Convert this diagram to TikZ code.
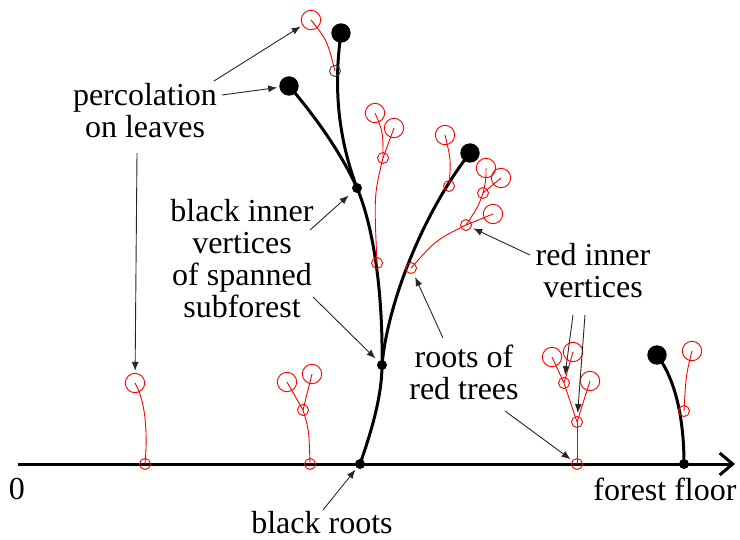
\documentclass[tikz,border=0pt]{standalone}
\usepackage{fontspec}
\setmainfont{Liberation Serif}
\usetikzlibrary{arrows.meta}
\pgfdeclarelayer{bg}
\pgfsetlayers{bg,main}
\begin{document}
\begin{tikzpicture}[x=1pt,y=-1pt,
  bigdot/.style={circle,fill=black,inner sep=0pt,minimum size=19.4pt},
  smalldot/.style={circle,fill=black,inner sep=0pt,minimum size=10pt},
  leaf/.style={circle,draw=red,line width=0.9pt,inner sep=0pt,minimum size=19.4pt},
  rv/.style={circle,draw=red,line width=0.9pt,inner sep=0pt,minimum size=11pt},
  dv/.style={circle,draw=black!75,line width=0.9pt,inner sep=0pt,minimum size=11pt},
  bline/.style={line width=3pt},
  rline/.style={red,line width=0.9pt},
  lbl/.style={align=center,inner sep=0pt,font=\fontsize{32}{32}\selectfont},
  arr/.style={line width=0.9pt,black!85,-{Latex[length=9pt,width=7pt]},shorten >=2pt},
]
\useasboundingbox (0,0) rectangle (740,540);

% black vertices
\node[smalldot] (br1) at (360,464) {};
\node[smalldot] (bi1) at (382,365) {};
\node[smalldot] (bi2) at (357,188) {};
\node[bigdot] (bl1) at (289,86) {};
\node[bigdot] (bl2) at (341,33) {};
\node[bigdot] (bl3) at (470,153) {};
\node[smalldot] (br2) at (684,464) {};
\node[bigdot] (bl4) at (657,355) {};

% red trees
\node[dv] (rA0) at (335,71) {};
\node[leaf] (rA1) at (311,20) {};

\node[rv] (rB0) at (377,263) {};
\node[rv] (rB1) at (383,158) {};
\node[leaf] (rB2) at (375,113) {};
\node[leaf] (rB3) at (394,128) {};

\node[rv] (rC0) at (411,268) {};
\node[rv] (rC1) at (466,225) {};
\node[rv] (rC2) at (483,193) {};
\node[leaf] (rC3) at (493,214) {};
\node[leaf] (rC4) at (486,168) {};
\node[leaf] (rC5) at (501,178) {};

\node[rv] (rD0) at (449,186) {};
\node[leaf] (rD1) at (445,135) {};

\node[rv] (rE0) at (145,464) {};
\node[leaf] (rE1) at (135,383) {};

\node[rv] (rF0) at (310,464) {};
\node[rv] (rF1) at (303,410) {};
\node[leaf] (rF2) at (287,382) {};
\node[leaf] (rF3) at (312,374) {};

\node[rv] (rG0) at (577,464) {};
\node[rv] (rG1) at (577,422) {};
\node[rv] (rG2) at (564,383) {};
\node[leaf] (rG3) at (590,381) {};
\node[leaf] (rG4) at (552,357) {};
\node[leaf] (rG5) at (573,352) {};

\node[rv] (rI0) at (684,411) {};
\node[leaf] (rI1) at (692,351) {};

% axis and edges
\coordinate (ax0) at (18,464);
\coordinate (ax1) at (735,464);
\begin{pgfonlayer}{bg}
\draw[line width=3pt,-{Straight Barb[length=13pt,width=22pt]}] (ax0) -- (ax1);
\draw[bline] (br1.center) .. controls (372,430) and (382,395) .. (bi1.center);
\draw[bline] (bi1.center) .. controls (383,300) and (375,230) .. (bi2.center);
\draw[bline] (bi2.center) .. controls (340,150) and (310,110) .. (bl1.center);
\draw[bline] (bi2.center) .. controls (339,140) and (333,90) .. (bl2.center);
\draw[bline] (bi1.center) .. controls (388,300) and (425,210) .. (bl3.center);
\draw[bline] (br2.center) .. controls (684,412) and (673,376) .. (bl4.center);

\draw[rline] (rA1.center) .. controls (327,40) .. (rA0.center);
\draw[rline] (rB0.center) .. controls (374,195) .. (rB1.center);
\draw[rline] (rB1.center) .. controls (383,132) .. (rB2.center);
\draw[rline] (rB1.center) -- (rB3.center);
\draw[rline] (rC0.center) .. controls (436,240) .. (rC1.center);
\draw[rline] (rC1.center) -- (rC3.center);
\draw[rline] (rC1.center) .. controls (478,207) .. (rC2.center);
\draw[rline] (rC2.center) .. controls (486,180) .. (rC4.center);
\draw[rline] (rC2.center) -- (rC5.center);
\draw[rline] (rD0.center) .. controls (451,160) .. (rD1.center);
\draw[rline] (rE0.center) .. controls (148,430) and (145,400) .. (rE1.center);
\draw[rline] (rF0.center) .. controls (309,430) .. (rF1.center);
\draw[rline] (rF1.center) -- (rF2.center);
\draw[rline] (rF1.center) -- (rF3.center);
\draw[rline] (rG0.center) -- (rG1.center);
\draw[rline] (rG1.center) -- (rG2.center);
\draw[rline] (rG1.center) -- (rG3.center);
\draw[rline] (rG2.center) -- (rG4.center);
\draw[rline] (rG2.center) -- (rG5.center);
\draw[rline] (rI0.center) .. controls (686,375) .. (rI1.center);
\end{pgfonlayer}

% labels
\node[lbl] (zero) at (17,489) {0};
\node[lbl] (floor) at (665,489) {forest floor};
\node[lbl] (broots) at (322,523) {black roots};
\node[lbl] (perc) at (145,111) {percolation\\on leaves};
\node[lbl] (binner) at (242,259) {black inner\\vertices\\of spanned\\subforest};
\node[lbl] (rinner) at (593,271) {red inner\\vertices};
\node[lbl] (rroots) at (464,372) {roots of\\red trees};

% arrow starts
\coordinate (s1) at (214,81);
\coordinate (s2) at (222,95);
\coordinate (s3) at (137,153);
\coordinate (s4) at (310,230);
\coordinate (s5) at (313,297);
\coordinate (s6) at (323,510);
\coordinate (s7) at (530,255);
\coordinate (s8) at (573,315);
\coordinate (s9) at (585,315);
\coordinate (s10) at (443,338);
\coordinate (s11) at (505,411);

\draw[arr] (s1) -- (rA1);
\draw[arr] (s2) -- (bl1);
\draw[arr] (s3) -- (rE1);
\draw[arr,shorten >=6pt] (s4) -- (bi2);
\draw[arr,shorten >=4pt] (s5) -- (bi1);
\draw[arr] (s6) -- (br1);
\draw[arr] (s7) -- (rC1);
\draw[arr] (s8) -- (rG2);
\draw[arr,shorten >=3pt] (s9) -- (rG1);
\draw[arr,shorten >=4pt] (s10) -- (rC0);
\draw[arr] (s11) -- (rG0);
\end{tikzpicture}
\end{document}
